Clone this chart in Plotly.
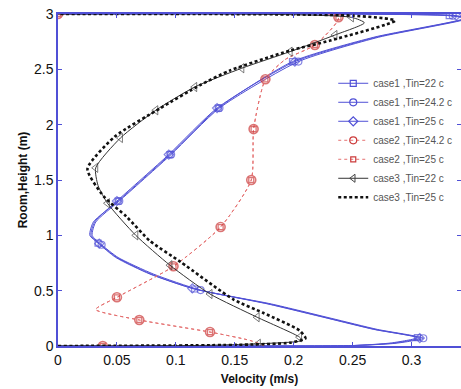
import plotly.graph_objects as go

# ---------------- data (x = velocity m/s, y = height m, m = marked measurement point) -------------
c1_22_x = [0.000, 0.150, 0.250, 0.283, 0.305, 0.268, 0.229, 0.178, 0.116, 0.078, 0.049, 0.034, 0.027, 0.030, 0.051, 0.095, 0.136, 0.199, 0.268, 0.345, 0.332, 0.000]
c1_22_y = [0.000, 0.000, 0.004, 0.028, 0.075, 0.150, 0.250, 0.380, 0.515, 0.650, 0.800, 0.930, 1.000, 1.120, 1.310, 1.730, 2.150, 2.570, 2.790, 2.960, 2.985, 3.000]
c1_22_m = [0, 0, 0, 0, 1, 0, 0, 0, 1, 0, 0, 1, 0, 0, 1, 1, 1, 1, 0, 0, 1, 0]

c1_242_x = [0.000, 0.150, 0.250, 0.287, 0.310, 0.271, 0.232, 0.181, 0.121, 0.081, 0.051, 0.037, 0.029, 0.032, 0.052, 0.096, 0.137, 0.204, 0.272, 0.348, 0.335, 0.000]
c1_242_y = [0.000, 0.000, 0.004, 0.025, 0.070, 0.150, 0.250, 0.380, 0.505, 0.650, 0.800, 0.915, 1.000, 1.120, 1.310, 1.730, 2.150, 2.570, 2.790, 2.960, 2.985, 3.000]
c1_242_m = [0, 0, 0, 0, 1, 0, 0, 0, 1, 0, 0, 1, 0, 0, 1, 1, 1, 1, 0, 0, 1, 0]

c1_25_x = [0.000, 0.150, 0.250, 0.285, 0.307, 0.269, 0.230, 0.179, 0.114, 0.079, 0.050, 0.035, 0.028, 0.031, 0.050, 0.094, 0.135, 0.201, 0.270, 0.346, 0.338, 0.000]
c1_25_y = [0.000, 0.000, 0.004, 0.026, 0.072, 0.150, 0.250, 0.380, 0.520, 0.650, 0.800, 0.925, 1.000, 1.120, 1.310, 1.730, 2.150, 2.570, 2.790, 2.960, 2.985, 3.000]
c1_25_m = [0, 0, 0, 0, 1, 0, 0, 0, 1, 0, 0, 1, 0, 0, 1, 1, 1, 1, 0, 0, 1, 0]

c2_242_x = [0.038, 0.175, 0.163, 0.129, 0.069, 0.032, 0.050, 0.098, 0.138, 0.164, 0.166, 0.176, 0.193, 0.218, 0.238, 0.000]
c2_242_y = [0.000, 0.000, 0.050, 0.126, 0.235, 0.330, 0.440, 0.720, 1.075, 1.500, 1.960, 2.410, 2.590, 2.720, 2.970, 3.000]
c2_242_m = [1, 0, 0, 1, 1, 0, 1, 1, 1, 1, 1, 1, 0, 1, 1, 1]

c2_25_x = [0.038, 0.175, 0.163, 0.129, 0.069, 0.032, 0.050, 0.098, 0.138, 0.164, 0.166, 0.176, 0.193, 0.218, 0.238, 0.000]
c2_25_y = [0.000, 0.000, 0.050, 0.126, 0.235, 0.330, 0.440, 0.720, 1.075, 1.500, 1.960, 2.410, 2.590, 2.720, 2.970, 3.000]
c2_25_m = [1, 0, 0, 1, 1, 0, 1, 1, 1, 1, 1, 1, 0, 1, 1, 1]

c3_22_x = [0.000, 0.120, 0.170, 0.207, 0.205, 0.169, 0.129, 0.095, 0.066, 0.042, 0.034, 0.032, 0.053, 0.083, 0.116, 0.156, 0.197, 0.235, 0.260, 0.249, 0.000]
c3_22_y = [0.000, 0.005, 0.020, 0.050, 0.080, 0.260, 0.470, 0.730, 1.000, 1.290, 1.450, 1.610, 1.880, 2.130, 2.340, 2.510, 2.660, 2.810, 2.920, 2.970, 3.000]
c3_22_m = [0, 0, 1, 0, 1, 1, 1, 1, 1, 1, 0, 1, 1, 1, 1, 1, 1, 1, 0, 1, 0]

c3_25_x = [0.000, 0.150, 0.197, 0.210, 0.205, 0.174, 0.149, 0.104, 0.078, 0.058, 0.039, 0.025, 0.048, 0.087, 0.121, 0.146, 0.197, 0.231, 0.286, 0.250, 0.000]
c3_25_y = [0.000, 0.010, 0.030, 0.070, 0.140, 0.300, 0.420, 0.760, 0.950, 1.170, 1.350, 1.600, 1.890, 2.150, 2.360, 2.490, 2.670, 2.760, 2.940, 2.985, 3.000]

x_tick_vals = [0, 0.05, 0.1, 0.15, 0.2, 0.25, 0.3]
x_tick_text = ["0", "0.05", "0.1", "0.15", "0.2", "0.25", "0.3"]
y_tick_vals = [0, 0.5, 1, 1.5, 2, 2.5, 3]
y_tick_text = ["0", "0.5", "1", "1.5", "2", "2.5", "3"]

# ---------------- styling ----------------
BLUE = "#5050d6"
RED = "#e57070"
REDM = "#cc3b3b"
FONT = "Arial, Liberation Sans, sans-serif"


def sizes(flags, s):
    return [s if f else 0 for f in flags]


fig = go.Figure()


def add(x, y, name, color, width, dash, flags=None, symbol=None, msize=7, mcolor=None, mwidth=1.2, yaxis="y"):
    line = dict(color=color, width=width, dash=dash)
    kw = dict(x=x, y=y, name=name, legendgroup=name, showlegend=False, yaxis=yaxis,
              line=dict(shape="spline", smoothing=0.6, **line))
    leg = dict(x=[None], y=[None], name=name, legendgroup=name, showlegend=True, line=line)
    if flags is not None:
        kw["mode"] = "lines+markers"
        kw["marker"] = dict(symbol=symbol, size=sizes(flags, msize), color=mcolor or color,
                            line=dict(color=mcolor or color, width=mwidth))
        leg["mode"] = "lines+markers"
        leg["marker"] = dict(symbol=symbol, size=min(msize, 7), color=mcolor or color,
                             line=dict(color=mcolor or color, width=min(mwidth, 1.2)))
    else:
        kw["mode"] = "lines"
        leg["mode"] = "lines"
    fig.add_trace(go.Scatter(**kw))
    fig.add_trace(go.Scatter(**leg))


add(c1_22_x, c1_22_y, "case1 ,Tin=22 c", BLUE, 1.0, "solid", c1_22_m, "square-open", 6)
add(c1_242_x, c1_242_y, "case1 ,Tin=24.2 c", BLUE, 1.0, "solid", c1_242_m, "circle-open", 7)
add(c1_25_x, c1_25_y, "case1 ,Tin=25 c", BLUE, 1.0, "solid", c1_25_m, "diamond-open", 7)
add(c2_242_x, c2_242_y, "case2 ,Tin=24.2 c", RED, 1.0, "3px,3px", c2_242_m, "circle-open", 9, REDM, 1.6)
add(c2_25_x, c2_25_y, "case2 ,Tin=25 c", RED, 1.0, "3px,3px", c2_25_m, "square-open", 5, REDM, 1.3)
add(c3_22_x, c3_22_y, "case3 ,Tin=22 c", "#333333", 1.0, "solid", c3_22_m, "triangle-left-open", 8, "#444444", 1.0)
add(c3_25_x, c3_25_y, "case3 ,Tin=25 c", "#111111", 2.6, "3px,2.5px", yaxis="y2")

tick_style = dict(ticks="inside", ticklen=4, tickcolor=BLUE, tickwidth=1,
                  showgrid=False, zeroline=False,
                  tickfont=dict(family=FONT, size=14, color="#111111"))

fig.update_layout(
    width=461, height=389,
    margin=dict(l=58, r=0, t=14, b=43),
    plot_bgcolor="white", paper_bgcolor="white",
    xaxis=dict(range=[0, 0.342], tickvals=x_tick_vals, ticktext=x_tick_text,
               showline=True, linecolor=BLUE, linewidth=1.5, mirror="ticks",
               title=dict(text="<b>Velocity (m/s)</b>", font=dict(family=FONT, size=12, color="#111111"), standoff=8),
               **tick_style),
    yaxis=dict(range=[0, 3], tickvals=y_tick_vals, ticktext=y_tick_text,
               showline=True, linecolor=BLUE, linewidth=1.5, mirror=False,
               title=dict(text="<b>Room,Height (m)</b>", font=dict(family=FONT, size=12, color="#111111"), standoff=4),
               **tick_style),
    yaxis2=dict(range=[0, 3], overlaying="y", side="right", tickvals=y_tick_vals,
                showticklabels=False, showline=False, **tick_style),
    legend=dict(x=0.683, y=0.835, xanchor="left", yanchor="top", bgcolor="rgba(255,255,255,0)",
                font=dict(family=FONT, size=10, color="#555555"),
                itemwidth=30, tracegroupgap=0),
    showlegend=True,
)

fig.write_html("out.html")
